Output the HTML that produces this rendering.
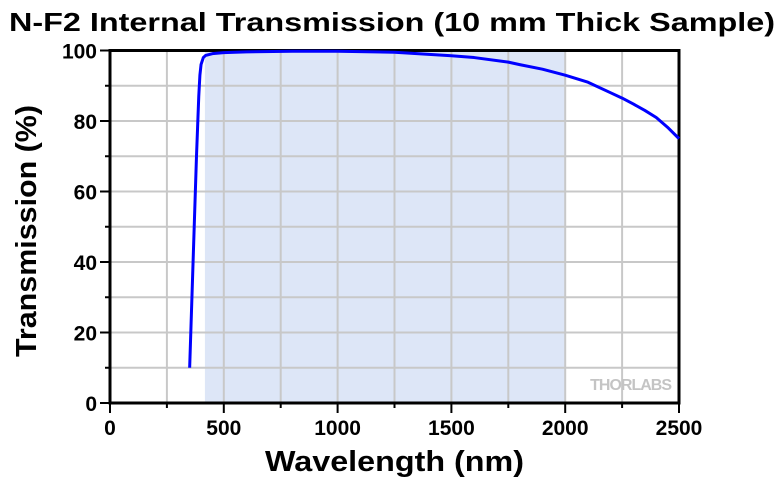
<!DOCTYPE html>
<html><head><meta charset="utf-8"><style>
body{margin:0;background:#fff;width:780px;height:477px;overflow:hidden}
text{font-family:"Liberation Sans",Arial,sans-serif;font-weight:bold}
</style></head><body>
<svg id="chart" width="780" height="477" xmlns="http://www.w3.org/2000/svg">
<text x="9" y="31" font-size="26" textLength="766" lengthAdjust="spacingAndGlyphs">N-F2 Internal Transmission (10 mm Thick Sample)</text>
<g id="grid"></g>
<g id="axes"></g>
<text x="265" y="471" font-size="29" textLength="259" lengthAdjust="spacingAndGlyphs">Wavelength (nm)</text>
<text transform="translate(36,357) rotate(-90)" font-size="29" textLength="252" lengthAdjust="spacingAndGlyphs">Transmission (%)</text>
<text x="671" y="390" text-anchor="end" font-size="16" fill="#c4c4c4" letter-spacing="-1">THORLABS</text>
</svg>
<script>
const wavelengths=[350,360,370,380,390,395,400,410,420,450,500,600,800,1000,1250,1500,1600,1750,1800,1900,2000,2100,2200,2250,2300,2350,2400,2450,2500];
const transmission=[10,30,50,70,87,93,96,98,98.6,99.1,99.4,99.6,99.8,99.8,99.5,98.5,98,96.7,96,94.7,93,91,88,86.5,84.8,83,81,78.2,75];
const xTicks=[0,500,1000,1500,2000,2500];
const yTicks=[0,20,40,60,80,100];
const bandRange=[417,2000];
const L=110,R=679,T=50.5,B=403;
const xs=v=>L+(v/2500)*(R-L), ys=v=>B-(v/100)*(B-T);
const NS="http://www.w3.org/2000/svg";
const svg=document.getElementById('chart'),grid=document.getElementById('grid'),axes=document.getElementById('axes');
function mk(tag,attrs,parent){const e=document.createElementNS(NS,tag);for(const k in attrs)e.setAttribute(k,attrs[k]);parent.appendChild(e);return e;}
const band=mk('rect',{x:xs(bandRange[0]),y:T,width:xs(bandRange[1])-xs(bandRange[0]),height:B-T,fill:'#dde6f7'},grid);


for(let v=250;v<2500;v+=250){const l=mk('line',{x1:xs(v),x2:xs(v),y1:T,y2:B,stroke:'#c8c8c8','stroke-width':2},grid);

}
for(let v=10;v<100;v+=10){const l=mk('line',{x1:L,x2:R,y1:ys(v),y2:ys(v),stroke:'#c8c8c8','stroke-width':2},grid);

}
const line=mk('polyline',{points:wavelengths.map((w,i)=>xs(w)+','+ys(transmission[i])).join(' '),fill:'none',stroke:'#0000ff','stroke-width':3,'stroke-linejoin':'round'},svg);


mk('path',{d:`M${L},${T} H${R} V${B} H${L} Z`,fill:'none',stroke:'#000','stroke-width':3},axes);
for(let v=0;v<=2500;v+=250){const big=v%500===0;mk('line',{x1:xs(v),x2:xs(v),y1:B,y2:B+(big?10:5),stroke:'#000','stroke-width':2},axes);}
for(let v=0;v<=100;v+=10){const big=v%20===0;mk('line',{x1:L,x2:L-(big?10:5),y1:ys(v),y2:ys(v),stroke:'#000','stroke-width':2},axes);}
xTicks.forEach(v=>{const t=mk('text',{x:xs(v),y:B+32,'text-anchor':'middle','font-size':21},axes);t.textContent=v;

});
yTicks.forEach(v=>{const t=mk('text',{x:L-13,y:ys(v)+8,'text-anchor':'end','font-size':21},axes);t.textContent=v;

});
</script>
</body></html>
